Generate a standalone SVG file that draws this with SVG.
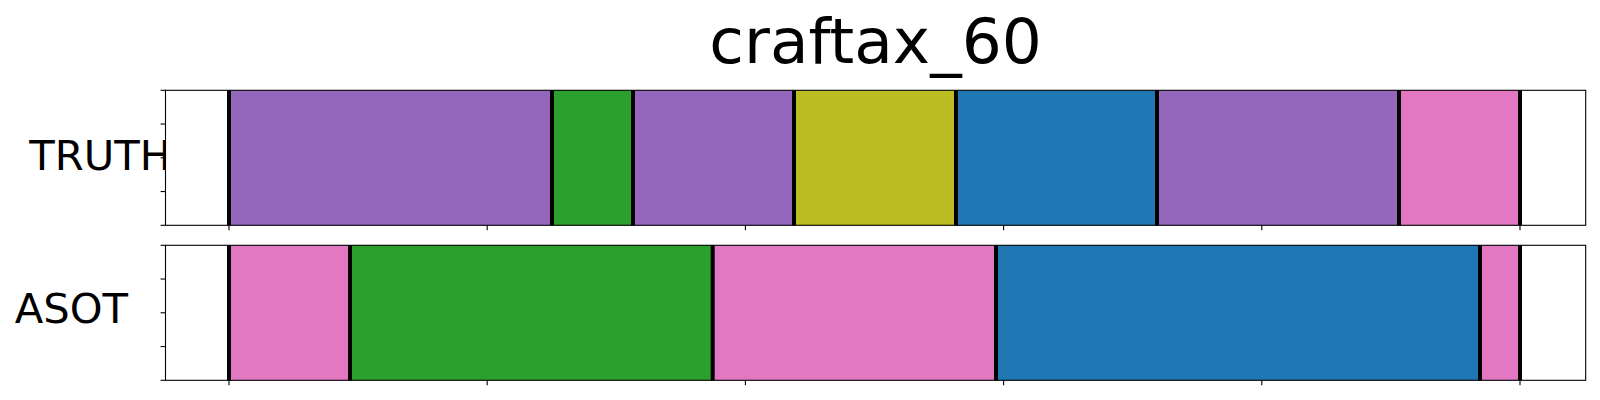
<svg xmlns="http://www.w3.org/2000/svg" width="1600" height="400" viewBox="0 0 1600 400">
<style>
text{font-family:"DejaVu Sans","Liberation Sans",sans-serif;fill:#000}
.t{font-size:63px}
.l{font-size:41.7px}
.pu{fill:#9467bd}.gr{fill:#2ca02c}.ol{fill:#bcbd22}.bl{fill:#1f77b4}.pk{fill:#e377c2}
.b{stroke:#000;stroke-width:4}
.sp{fill:none;stroke:#000;stroke-width:1.1}
.tk{stroke:#000;stroke-width:1.1}
</style>
<rect width="1600" height="400" fill="#fff"/>
<text id="title" class="t" x="875.6" y="63" text-anchor="middle">craftax_60</text>
<g id="truth">
<text class="l" x="29.3" y="170">TRUTH</text>
<rect x="165.5" y="90.3" width="1420.2" height="135" fill="#fff"/>
<rect class="pu" x="229" y="90.3" width="323" height="135"/>
<rect class="gr" x="552" y="90.3" width="81" height="135"/>
<rect class="pu" x="633" y="90.3" width="161" height="135"/>
<rect class="ol" x="794" y="90.3" width="162" height="135"/>
<rect class="bl" x="956" y="90.3" width="201" height="135"/>
<rect class="pu" x="1157" y="90.3" width="242" height="135"/>
<rect class="pk" x="1399" y="90.3" width="121" height="135"/>
<g class="b">
<line x1="229" y1="90.3" x2="229" y2="225.3"/>
<line x1="552" y1="90.3" x2="552" y2="225.3"/>
<line x1="633" y1="90.3" x2="633" y2="225.3"/>
<line x1="794" y1="90.3" x2="794" y2="225.3"/>
<line x1="956" y1="90.3" x2="956" y2="225.3"/>
<line x1="1157" y1="90.3" x2="1157" y2="225.3"/>
<line x1="1399" y1="90.3" x2="1399" y2="225.3"/>
<line x1="1520" y1="90.3" x2="1520" y2="225.3"/>
</g>
<rect class="sp" x="165.5" y="90.3" width="1420.2" height="135"/>
<g class="tk">
<line x1="160.6" y1="90.3" x2="165.5" y2="90.3"/>
<line x1="160.6" y1="124.05" x2="165.5" y2="124.05"/>
<line x1="160.6" y1="157.8" x2="165.5" y2="157.8"/>
<line x1="160.6" y1="191.55" x2="165.5" y2="191.55"/>
<line x1="160.6" y1="225.3" x2="165.5" y2="225.3"/>
<line x1="229" y1="225.3" x2="229" y2="230.2"/>
<line x1="487.2" y1="225.3" x2="487.2" y2="230.2"/>
<line x1="745.4" y1="225.3" x2="745.4" y2="230.2"/>
<line x1="1003.6" y1="225.3" x2="1003.6" y2="230.2"/>
<line x1="1261.8" y1="225.3" x2="1261.8" y2="230.2"/>
<line x1="1520" y1="225.3" x2="1520" y2="230.2"/>
</g>
</g>
<g id="asot">
<text class="l" x="14.7" y="322.7">ASOT</text>
<rect x="165.5" y="245.3" width="1420.2" height="135" fill="#fff"/>
<rect class="pk" x="229" y="245.3" width="121" height="135"/>
<rect class="gr" x="350" y="245.3" width="362.7" height="135"/>
<rect class="pk" x="712.7" y="245.3" width="283.3" height="135"/>
<rect class="bl" x="996" y="245.3" width="484" height="135"/>
<rect class="pk" x="1480" y="245.3" width="40" height="135"/>
<g class="b">
<line x1="229" y1="245.3" x2="229" y2="380.3"/>
<line x1="350" y1="245.3" x2="350" y2="380.3"/>
<line x1="712.7" y1="245.3" x2="712.7" y2="380.3"/>
<line x1="996" y1="245.3" x2="996" y2="380.3"/>
<line x1="1480" y1="245.3" x2="1480" y2="380.3"/>
<line x1="1520" y1="245.3" x2="1520" y2="380.3"/>
</g>
<rect class="sp" x="165.5" y="245.3" width="1420.2" height="135"/>
<g class="tk">
<line x1="160.6" y1="245.3" x2="165.5" y2="245.3"/>
<line x1="160.6" y1="279.05" x2="165.5" y2="279.05"/>
<line x1="160.6" y1="312.8" x2="165.5" y2="312.8"/>
<line x1="160.6" y1="346.55" x2="165.5" y2="346.55"/>
<line x1="160.6" y1="380.3" x2="165.5" y2="380.3"/>
<line x1="229" y1="380.3" x2="229" y2="385.2"/>
<line x1="487.2" y1="380.3" x2="487.2" y2="385.2"/>
<line x1="745.4" y1="380.3" x2="745.4" y2="385.2"/>
<line x1="1003.6" y1="380.3" x2="1003.6" y2="385.2"/>
<line x1="1261.8" y1="380.3" x2="1261.8" y2="385.2"/>
<line x1="1520" y1="380.3" x2="1520" y2="385.2"/>
</g>
</g>
</svg>
